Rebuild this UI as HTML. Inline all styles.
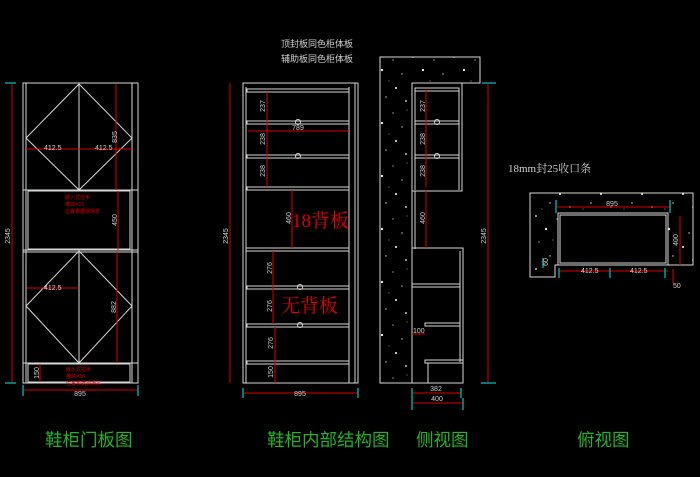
<!DOCTYPE html>
<html><head><meta charset="utf-8"><style>
html,body{margin:0;padding:0;background:#000;width:700px;height:477px;overflow:hidden}
svg{display:block}
.g{font-family:"Liberation Sans","Noto Sans CJK SC",sans-serif;fill:#22b422;font-size:17.5px}
.w{stroke:#d8d8d8;stroke-width:1;fill:none}
.r{stroke:#e00000;stroke-width:1;fill:none}
.c{stroke:#00a0a0;stroke-width:1.5}
.t{font-family:"Liberation Sans",sans-serif;font-size:7px;fill:#d0d0d0}
.rt{font-family:"Liberation Sans","Noto Sans CJK SC",sans-serif;font-size:5px;fill:#e00000}
</style></head><body>
<svg width="700" height="477" viewBox="0 0 700 477" xmlns="http://www.w3.org/2000/svg">
<defs>
<pattern id="st" width="41" height="53" patternUnits="userSpaceOnUse">
<rect width="41" height="53" fill="#000"/>
<circle cx="3" cy="4" r="0.9" fill="#fff"/><circle cx="24" cy="7" r="0.6" fill="#ddd"/>
<circle cx="13" cy="17" r="1.1" fill="#fff"/><circle cx="33" cy="21" r="0.7" fill="#ccc"/>
<circle cx="6" cy="30" r="0.6" fill="#ddd"/><circle cx="27" cy="35" r="1" fill="#fff"/>
<circle cx="17" cy="44" r="0.7" fill="#ddd"/><circle cx="37" cy="48" r="0.9" fill="#fff"/>
<circle cx="9" cy="50" r="0.5" fill="#bbb"/><circle cx="38" cy="4" r="0.5" fill="#bbb"/>
<circle cx="20" cy="28" r="0.5" fill="#ccc"/>
</pattern>
</defs>

<!-- LEFT: door view -->
<g class="w">
<rect x="23" y="83" width="115" height="300"/>
<line x1="26" y1="83" x2="26" y2="383"/><line x1="132" y1="83" x2="132" y2="383"/>
<line x1="23" y1="190" x2="138" y2="190"/><line x1="23" y1="250" x2="138" y2="250"/>
<line x1="23" y1="252" x2="138" y2="252"/><line x1="23" y1="363" x2="138" y2="363"/>
<rect x="28" y="191" width="102" height="58"/>
<rect x="28" y="364" width="102" height="18"/>
<line x1="79" y1="84" x2="79" y2="190"/><line x1="79" y1="251" x2="79" y2="363"/>
<polygon points="79,84 132,138 79,190 26,138"/>
<polygon points="79,251 132,306 79,363 26,306"/>
</g>
<g class="r">
<line x1="12" y1="83" x2="12" y2="383"/>
<line x1="23" y1="390" x2="138" y2="390"/>
<line x1="26" y1="149" x2="132" y2="149"/>
<line x1="27" y1="288" x2="79" y2="288"/>
<line x1="116" y1="84" x2="116" y2="190"/><line x1="118" y1="191" x2="118" y2="250"/>
<line x1="117" y1="252" x2="117" y2="363"/><line x1="40" y1="364" x2="40" y2="382"/>
</g>
<g class="c"><line x1="5" y1="83" x2="16" y2="83"/><line x1="5" y1="383" x2="16" y2="383"/>
<line x1="23" y1="385" x2="23" y2="396"/><line x1="138" y1="385" x2="138" y2="396"/></g>
<text class="t" x="10" y="236" transform="rotate(-90 10 236)" text-anchor="middle">2345</text>
<text class="t" x="80" y="396" text-anchor="middle">895</text>
<text class="t" x="44" y="150">412.5</text><text class="t" x="95" y="150">412.5</text>
<text class="t" x="117" y="137" transform="rotate(-90 117 137)" text-anchor="middle">835</text>
<text class="t" x="117" y="220" transform="rotate(-90 117 220)" text-anchor="middle">450</text>
<text class="t" x="116" y="307" transform="rotate(-90 116 307)" text-anchor="middle">882</text>
<text class="t" x="39" y="373" transform="rotate(-90 39 373)" text-anchor="middle">150</text>
<text class="t" x="44" y="290">412.5</text>
<text class="rt" x="65" y="199">嵌入式拉手</text><text class="rt" x="65" y="206">槽30×15</text><text class="rt" x="65" y="213">位置根据现场定</text>
<text class="rt" x="66" y="371">嵌入式拉手</text><text class="rt" x="66" y="378">槽30×15</text><text class="rt" x="66" y="385">位置根据现场定</text>

<!-- MIDDLE: interior -->
<g class="w">
<rect x="243" y="83" width="115" height="300"/>
<line x1="246" y1="87" x2="246" y2="383"/><line x1="349" y1="87" x2="349" y2="383"/><line x1="355" y1="83" x2="355" y2="383"/>
<rect x="247" y="89" width="102" height="3"/>
<rect x="247" y="121" width="102" height="3"/>
<rect x="247" y="155" width="102" height="3"/>
<rect x="247" y="187" width="102" height="3"/>
<rect x="246" y="248" width="103" height="3"/>
<rect x="247" y="286" width="102" height="3"/>
<rect x="247" y="324" width="102" height="3"/>
<rect x="247" y="361" width="102" height="3"/>
<circle cx="298" cy="122" r="2.5"/><circle cx="298" cy="156" r="2.5"/>
<circle cx="300" cy="287" r="2.5"/><circle cx="300" cy="325" r="2.5"/>
</g>
<g class="r">
<line x1="267" y1="92" x2="267" y2="187"/><line x1="292" y1="190" x2="292" y2="248"/>
<line x1="273" y1="251" x2="273" y2="324"/><line x1="275" y1="327" x2="275" y2="383"/>
<line x1="248" y1="131" x2="349" y2="131"/>
<line x1="243" y1="393" x2="358" y2="393"/>
<line x1="230" y1="83" x2="230" y2="383"/>
</g>
<g class="c"><line x1="243" y1="388" x2="243" y2="398"/><line x1="358" y1="388" x2="358" y2="398"/></g>
<text class="t" x="228" y="236" transform="rotate(-90 228 236)" text-anchor="middle">2345</text>
<text class="t" x="300" y="396" text-anchor="middle">895</text>
<text class="t" x="298" y="130" text-anchor="middle">789</text>
<text class="t" x="265" y="106" transform="rotate(-90 265 106)" text-anchor="middle">237</text>
<text class="t" x="265" y="139" transform="rotate(-90 265 139)" text-anchor="middle">238</text>
<text class="t" x="265" y="171" transform="rotate(-90 265 171)" text-anchor="middle">238</text>
<text class="t" x="291" y="218" transform="rotate(-90 291 218)" text-anchor="middle">460</text>
<text class="t" x="272" y="268" transform="rotate(-90 272 268)" text-anchor="middle">276</text>
<text class="t" x="272" y="306" transform="rotate(-90 272 306)" text-anchor="middle">276</text>
<text class="t" x="273" y="343" transform="rotate(-90 273 343)" text-anchor="middle">276</text>
<text class="t" x="273" y="372" transform="rotate(-90 273 372)" text-anchor="middle">150</text>
<text x="292" y="227" style="font-family:'Liberation Serif','Noto Serif CJK SC',serif;font-size:19px;fill:#e00000">18背板</text>
<text x="281" y="312" style="font-family:'Liberation Serif','Noto Serif CJK SC',serif;font-size:19px;fill:#e00000">无背板</text>
<text x="281" y="47" style="font-family:'Noto Sans CJK SC',sans-serif;font-size:9px;fill:#d0d0d0">顶封板同色柜体板</text>
<text x="281" y="62" style="font-family:'Noto Sans CJK SC',sans-serif;font-size:9px;fill:#d0d0d0">辅助板同色柜体板</text>

<!-- SIDE view -->
<path d="M380 57 H480 V83 H412 V383 H380 Z" fill="url(#st)" stroke="#d8d8d8"/>
<g class="w">
<rect x="412" y="83" width="50" height="108"/>
<line x1="415" y1="90" x2="415" y2="190"/><line x1="459" y1="90" x2="459" y2="190"/>
<rect x="415" y="88" width="44" height="3"/><rect x="415" y="121" width="44" height="3"/>
<rect x="415" y="155" width="44" height="3"/>
<circle cx="437" cy="122" r="2.5"/><circle cx="437" cy="156" r="2.5"/>
<line x1="412" y1="191" x2="412" y2="249"/><line x1="415" y1="191" x2="415" y2="249"/>
<rect x="412" y="248" width="51" height="135"/><line x1="460" y1="251" x2="460" y2="362"/>
<rect x="412" y="284" width="48" height="3"/><rect x="425" y="323" width="35" height="3"/>
<rect x="425" y="360" width="38" height="3"/><line x1="428" y1="363" x2="428" y2="383"/>
</g>
<g class="r">
<line x1="426" y1="90" x2="426" y2="187"/><line x1="426" y1="190" x2="426" y2="248"/>
<line x1="488" y1="83" x2="488" y2="383"/>
<line x1="412" y1="393" x2="461" y2="393"/><line x1="412" y1="403" x2="463" y2="403"/>
<line x1="412" y1="334" x2="425" y2="334"/>
</g>
<g class="c"><line x1="482" y1="83" x2="496" y2="83"/><line x1="481" y1="383" x2="496" y2="383"/>
<line x1="412" y1="388" x2="412" y2="410"/><line x1="461" y1="388" x2="461" y2="398"/><line x1="463" y1="398" x2="463" y2="410"/></g>
<text class="t" x="486" y="236" transform="rotate(-90 486 236)" text-anchor="middle">2345</text>
<text class="t" x="436" y="391" text-anchor="middle">382</text><text class="t" x="437" y="401" text-anchor="middle">400</text>
<text class="t" x="413" y="333">100</text>
<text class="t" x="425" y="106" transform="rotate(-90 425 106)" text-anchor="middle">237</text>
<text class="t" x="425" y="139" transform="rotate(-90 425 139)" text-anchor="middle">238</text>
<text class="t" x="425" y="171" transform="rotate(-90 425 171)" text-anchor="middle">238</text>
<text class="t" x="425" y="218" transform="rotate(-90 425 218)" text-anchor="middle">460</text>

<!-- TOP view -->
<text x="508" y="172" style="font-family:'Liberation Serif','Noto Serif CJK SC',serif;font-size:11px;fill:#d0d0d0">18mm封25收口条</text>
<path d="M530 193 H693 V265 H668 V213 H558 V265 H555 V277 H530 Z" fill="url(#st)" stroke="#d8d8d8"/>
<g class="w"><rect x="558" y="213" width="110" height="52"/><rect x="560" y="215" width="106" height="48"/>
<line x1="555" y1="265" x2="693" y2="265"/></g>
<g class="r"><line x1="557" y1="207" x2="670" y2="207"/><line x1="680" y1="216" x2="680" y2="265"/>
<line x1="559" y1="271" x2="668" y2="271"/><line x1="673" y1="269" x2="673" y2="283"/></g>
<g class="c"><line x1="556" y1="200" x2="556" y2="213"/><line x1="670" y1="200" x2="670" y2="213"/>
<line x1="559" y1="268" x2="559" y2="278"/><line x1="610" y1="268" x2="610" y2="278"/><line x1="665" y1="268" x2="665" y2="278"/>
<line x1="543" y1="258" x2="543" y2="268"/></g>
<text class="t" x="612" y="206" text-anchor="middle">895</text>
<text class="t" x="581" y="273">412.5</text><text class="t" x="630" y="273">412.5</text>
<text class="t" x="678" y="240" transform="rotate(-90 678 240)" text-anchor="middle">400</text>
<text class="t" x="548" y="262" transform="rotate(-90 548 262)" text-anchor="middle">60</text>
<text class="t" x="673" y="288">50</text>

<!-- titles -->
<text class="g" x="45" y="446">鞋柜门板图</text>
<text class="g" x="267" y="446">鞋柜内部结构图</text>
<text class="g" x="416" y="446">侧视图</text>
<text class="g" x="577" y="446">俯视图</text>
</svg>
</body></html>
